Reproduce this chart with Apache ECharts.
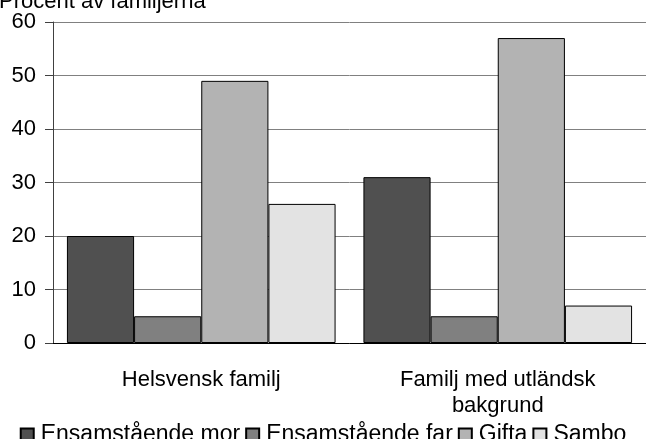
<!DOCTYPE html>
<html>
<head>
<meta charset="utf-8">
<title>Procent av familjerna</title>
<script src="https://cdn.jsdelivr.net/npm/echarts@6/dist/echarts.min.js"></script>
<style>
  html, body { margin: 0; padding: 0; background: #fff; }
  #chart { width: 646px; height: 439px; }
</style>
</head>
<body>
<div id="chart"></div>
<script>
// kategorier och värden (procent)
var categories = ['Helsvensk familj', 'Familj med utländsk\nbakgrund'];
var seriesNames = ['Ensamstående mor', 'Ensamstående far', 'Gifta', 'Sambo'];
var morValues = [20, 31];
var farValues = [5, 5];
var giftaValues = [49, 57];
var samboValues = [26, 7];
var yTicks = [0, 10, 20, 30, 40, 50, 60];

var colors = ['#505050', '#808080', '#b3b3b3', '#e3e3e3'];
var values = [morValues, farValues, giftaValues, samboValues];
var font = 'Liberation Sans, Arial, sans-serif';

var chart = echarts.init(document.getElementById('chart'));

chart.setOption({
    animation: false,
    title: {
        text: 'Procent av familjerna',
        left: -6,
        top: -14,
        textStyle: { fontFamily: font, fontSize: 22, fontWeight: 'normal', color: '#000' }
    },
    legend: {
        data: seriesNames,
        left: 'center',
        top: 418,
        itemWidth: 13,
        itemHeight: 12,
        itemGap: 5,
        icon: 'rect',
        textStyle: { fontFamily: font, fontSize: 23, color: '#000', padding: [0, 0, 0, 2] }
    },
    grid: { left: 53, top: 22, width: 598, height: 321 },
    xAxis: {
        type: 'category',
        data: categories,
        axisLine: { lineStyle: { color: '#000', width: 1 } },
        axisTick: { show: false },
        axisLabel: {
            fontFamily: font, fontSize: 22, color: '#000',
            margin: 24, lineHeight: 26, interval: 0
        }
    },
    yAxis: {
        type: 'value',
        min: yTicks[0],
        max: yTicks[yTicks.length - 1],
        interval: 10,
        axisLine: { show: true, lineStyle: { color: '#404040', width: 1 } },
        axisTick: { show: true, length: 8, lineStyle: { color: '#404040' } },
        axisLabel: { fontFamily: font, fontSize: 22, color: '#000', margin: 17 },
        splitLine: { lineStyle: { color: '#808080', width: 1 } }
    },
    series: seriesNames.map(function (name, i) {
        return {
            name: name,
            type: 'bar',
            data: values[i],
            barGap: '0%',
            barCategoryGap: '9.4%',
            itemStyle: { color: colors[i], borderColor: '#000', borderWidth: 1 }
        };
    })
});
</script>
</body>
</html>
